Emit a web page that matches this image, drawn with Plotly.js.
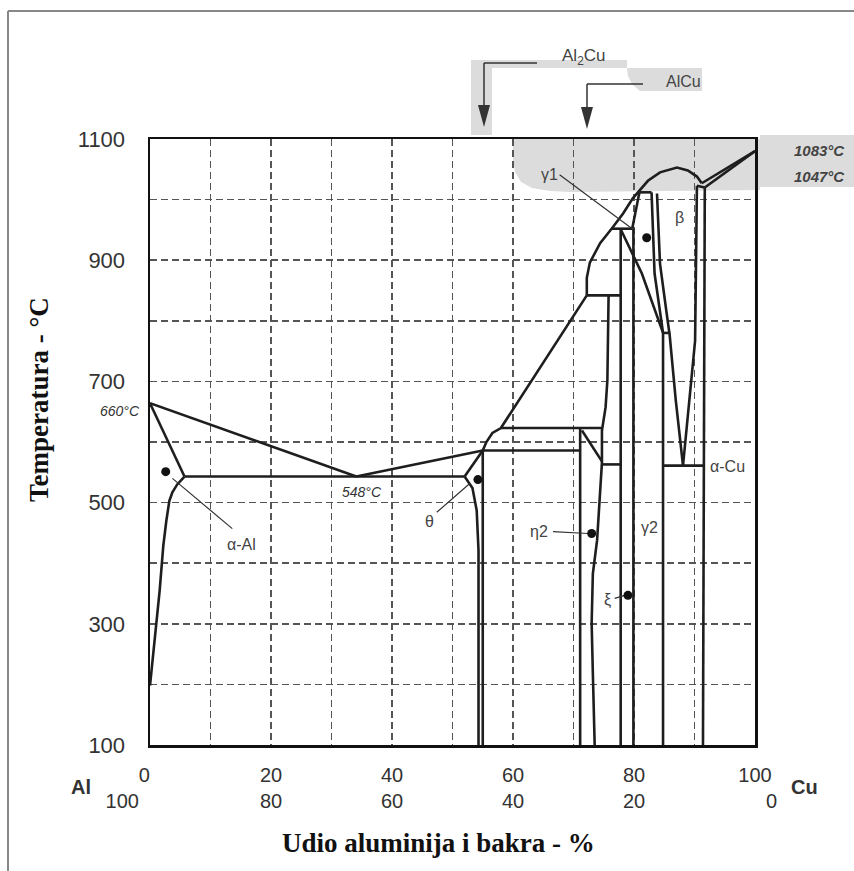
<!DOCTYPE html>
<html><head><meta charset="utf-8">
<script src="https://cdn.plot.ly/plotly-3.0.1.min.js"></script>
<style>html,body{margin:0;padding:0;background:#fff}#chart{width:854px;height:871px}</style>
</head><body><div id="chart"></div>
<script>
// ---- axis ticks ----
const FS = '\u2007';
const xTickVals = [0,10,20,30,40,50,60,70,80,90,100];
const xTickText = [FS+FS+'0'+FS+FS+FS+'<br>100'+FS+FS+FS+FS+FS,'','20<br>80','','40<br>60','','60<br>40','','80<br>20','','100<br>'+FS+FS+FS+'0'];
const yTickVals = [100,200,300,400,500,600,700,800,900,1000,1100];
const yTickText = ['100','','300','','500','','700','','900','','1100'];

// ---- phase boundaries (x = wt% Cu, T = °C) ----
const liqAlX = [0, 34.1];            const liqAlT = [664, 543];
const solAlX = [0, 5.7];             const solAlT = [664, 543];
const eutX = [5.7, 52.0];            const eutT = [543, 543];
const solvAlX = [5.7,4.5,3.7,3.2,2.7,2.2,1.6,0.9,0.25,0];
const solvAlT = [543,530,517,503,470,429,355,289,231,198];
const liqThX = [34.1, 55.0];         const liqThT = [543, 586];
const thLeftX = [52.0,53.3,54.0,54.3,54.3]; const thLeftT = [543,524,487,421,100];
const thSolX = [52.0, 55.0];         const thSolT = [543, 586];
const thRightX = [55.0, 55.0];       const thRightT = [586, 100];
const per586X = [55.0, 71.1];        const per586T = [586, 586];
const liqUpX = [55.0,55.6,56.6,58.0,72.2]; const liqUpT = [586,600,615,623,842];
const h623X = [58.0, 74.7];          const h623T = [623, 623];
const eta2LX = [71.1, 71.1];         const eta2LT = [623, 100];
const diagX = [71.4, 74.7];          const diagT = [619, 568];
const eta2RX = [75.8,75.6,75.3,74.7,74.7,73.9,73.2,73.0,73.2,73.5];
const eta2RT = [842,702,657,619,566,438,383,301,218,100];
const zetaTopX = [74.7, 77.8];       const zetaTopT = [563, 563];
const v778X = [77.8, 77.8];          const v778T = [952, 100];
const h842X = [72.2, 77.8];          const h842T = [842, 842];
const liqHiX = [72.2,72.2,72.7,74.4,76.3,78.2,79.8,80.9,82.3,84.3,87.1,88.9,90.4,91.2];
const liqHiT = [842,871,896,928,952,977,1002,1015,1031,1045,1053,1048,1038,1027];
const h952X = [76.3, 79.7];          const h952T = [952, 952];
const triRX = [79.7, 80.9];          const triRT = [952, 1012];
const h1012X = [80.9, 82.9];         const h1012T = [1012, 1012];
const stripX = [77.9, 81.3, 84.8];   const stripT = [949, 878, 780];
const v799X = [79.9, 79.9];          const v799T = [952, 100];
const g1RX = [82.9, 83.4, 84.8];     const g1RT = [1012, 878, 780];
const betaLX = [83.8,84.3,85.4,85.9,86.9,88.1]; const betaLT = [1010,894,812,776,669,561];
const betaRX = [90.4,90.1,88.1];     const betaRT = [1023,767,561];
const v848X = [84.8, 84.8];          const v848T = [780, 100];
const h780X = [84.8, 86.0];          const h780T = [780, 780];
const eutdX = [84.8, 91.5];          const eutdT = [561, 561];
const aCuX = [91.7, 91.6, 91.4];     const aCuT = [1020, 700, 100];
const aCuTopX = [90.4, 91.7];        const aCuTopT = [1023, 1020];
const liqCuX = [91.2, 100];          const liqCuT = [1027, 1080];
const solCuX = [91.7, 100];          const solCuT = [1020, 1080];

// ---- label dots and leaders ----
const dotX = [2.6, 54.2, 73.0, 79.0, 82.1];
const dotT = [551, 538, 449, 347, 937];
const leadAlX = [3.7, 13.6];   const leadAlT = [540, 457];
const leadThX = [47.4, 52.9];  const leadThT = [484, 532];
const leadEtaX = [66.6, 72.4]; const leadEtaT = [452, 449];
const leadXiX = [76.8, 78.5];  const leadXiT = [342, 347];
const leadG1X = [67.7, 79.7];  const leadG1T = [1041, 952];

// ---- phase labels ----
const labText = ['α-Al','θ','η2','γ2','ξ','α-Cu','β','γ1','<i>548°C</i>'];
const labX = [15.2, 46.2, 64.3, 82.5, 75.7, 95.5, 87.6, 66.1, 35.0];
const labT = [431, 469, 452, 459, 339, 560, 970, 1041, 518];

const boundaries = [
 [liqAlX,liqAlT],[solAlX,solAlT],[eutX,eutT],[solvAlX,solvAlT],[liqThX,liqThT],
 [thLeftX,thLeftT],[thSolX,thSolT],[thRightX,thRightT],[per586X,per586T],[liqUpX,liqUpT],
 [h623X,h623T],[eta2LX,eta2LT],[diagX,diagT],[eta2RX,eta2RT],[zetaTopX,zetaTopT],
 [v778X,v778T],[h842X,h842T],[liqHiX,liqHiT],[h952X,h952T],[triRX,triRT],[h1012X,h1012T],
 [stripX,stripT],[v799X,v799T],[g1RX,g1RT],[betaLX,betaLT],[betaRX,betaRT],[v848X,v848T],
 [h780X,h780T],[eutdX,eutdT],[aCuX,aCuT],[aCuTopX,aCuTopT],[liqCuX,liqCuT],[solCuX,solCuT]
];
const leaders = [[leadAlX,leadAlT],[leadThX,leadThT],[leadEtaX,leadEtaT],[leadXiX,leadXiT],[leadG1X,leadG1T]];

const traces = [];
boundaries.forEach(b => traces.push({x:b[0], y:b[1], mode:'lines', type:'scatter', hoverinfo:'skip',
  line:{color:'#1e1e1e', width:2.6}, showlegend:false}));
leaders.forEach(b => traces.push({x:b[0], y:b[1], mode:'lines', type:'scatter', hoverinfo:'skip',
  line:{color:'#333', width:1.2}, showlegend:false}));
traces.push({x:dotX, y:dotT, mode:'markers', type:'scatter', marker:{color:'#111', size:9}, showlegend:false, hoverinfo:'skip'});

// pixel -> paper helper for decorations
const L=150, R=755, T=139, B=745;
const px = x => (x-L)/(R-L);
const py = y => (B-y)/(B-T);
function path(pts){ return 'M' + pts.map(p => px(p[0]).toFixed(4)+','+py(p[1]).toFixed(4)).join(' L') + ' Z'; }
function line(x0,y0,x1,y1,w,c){ return {type:'line', xref:'paper', yref:'paper', x0:px(x0), y0:py(y0), x1:px(x1), y1:py(y1), line:{color:c||'#333', width:w||1.5}}; }

const grey = '#dcdcdc';
const shapes = [
  {type:'path', xref:'paper', yref:'paper', layer:'below', fillcolor:grey, line:{width:0},
   path: path([[513,139],[513,160],[515,172],[521,182],[532,188],[550,191],[570,192],[760,190],[760,187],[854,187],[854,135],[760,135],[760,139]])},
  {type:'path', xref:'paper', yref:'paper', layer:'below', fillcolor:grey, line:{width:0},
   path: path([[471,60],[627,60],[627,68],[492,68],[492,135],[471,135]])},
  {type:'path', xref:'paper', yref:'paper', layer:'below', fillcolor:grey, line:{width:0},
   path: path([[627,68],[702,68],[702,91],[640,91],[632,84],[628,76]])},
  // Al2Cu arrow
  line(537,63,484,63,1.5), line(484,63,484,108,1.5),
  {type:'path', xref:'paper', yref:'paper', fillcolor:'#333', line:{width:0}, path: path([[478,105],[490,105],[484,127]])},
  // AlCu arrow
  line(643,84,587,84,1.5), line(587,84,587,110,1.5),
  {type:'path', xref:'paper', yref:'paper', fillcolor:'#333', line:{width:0}, path: path([[581,107],[593,107],[587,129]])},
  // picture border
  line(8,11,854,11,2,'#888'), line(8,11,8,871,2,'#888')
];

const annFont = {family:'Liberation Sans, Arial, sans-serif', size:16, color:'#444'};
const smallItal = {family:'Liberation Sans, Arial', size:14, color:'#333'};
const annotations = labText.map((t,i) => ({x:labX[i], y:labT[i], xref:'x', yref:'y', text:t, showarrow:false,
  xanchor:'center', yanchor:'middle', font: i===8 ? smallItal : annFont}));
function pa(x, y, text, font, extra){ return Object.assign({xref:'paper', yref:'paper', x:px(x), y:py(y), text:text, showarrow:false, xanchor:'center', yanchor:'middle', font:font}, extra||{}); }
annotations.push(
  pa(120, 411, '<i>660°C</i>', smallItal),
  pa(819, 150, '<i><b>1083°C</b></i>', {family:'Liberation Sans, Arial', size:15, color:'#444'}),
  pa(819, 176, '<i><b>1047°C</b></i>', {family:'Liberation Sans, Arial', size:15, color:'#444'}),
  pa(81, 787, '<b>Al</b>', {family:'Liberation Sans, Arial', size:20, color:'#333'}),
  pa(804, 787, '<b>Cu</b>', {family:'Liberation Sans, Arial', size:20, color:'#333'}),
  pa(583, 57, 'Al<sub>2</sub>Cu', {family:'Liberation Sans, Arial', size:17, color:'#444'}),
  pa(683, 81, 'AlCu', {family:'Liberation Sans, Arial', size:16, color:'#444'}),
  pa(39, 400, '<b>Temperatura - °C</b>', {family:'Liberation Serif, Times New Roman, serif', size:27, color:'#111'}, {textangle:-90}),
  pa(438, 843, '<b>Udio aluminija i bakra - %</b>', {family:'Liberation Serif, Times New Roman, serif', size:27, color:'#111'})
);

const gridStyle = {showgrid:true, gridcolor:'#555', gridwidth:1.5, griddash:'7px,4px'};
const layout = {
  width:854, height:871, paper_bgcolor:'#fff', plot_bgcolor:'rgba(0,0,0,0)',
  margin:{l:L, r:854-R, t:T, b:871-B},
  showlegend:false,
  xaxis: Object.assign({range:[0,100], tickmode:'array', tickvals:xTickVals, ticktext:xTickText,
     showline:true, mirror:true, linecolor:'#111', linewidth:2.5, ticks:'', zeroline:false,
     ticklabelstandoff:10, tickfont:{family:'Liberation Sans, Arial', size:20, color:'#333'}}, gridStyle),
  yaxis: Object.assign({range:[100,1100], tickmode:'array', tickvals:yTickVals, ticktext:yTickText,
     showline:true, mirror:true, linecolor:'#111', linewidth:2.5, ticks:'', zeroline:false,
     ticklabelstandoff:18, tickfont:{family:'Liberation Sans, Arial', size:22, color:'#333'}}, gridStyle),
  shapes: shapes, annotations: annotations
};
Plotly.newPlot('chart', traces, layout, {staticPlot:true, displayModeBar:false});
</script></body></html>
